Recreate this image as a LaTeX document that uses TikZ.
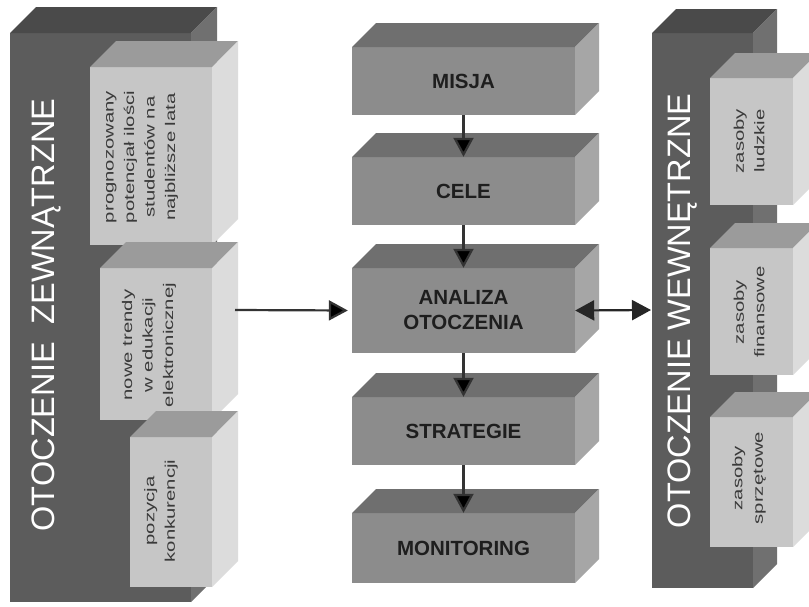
\documentclass[tikz,border=0pt]{standalone}
\usepackage{fontspec}
\setmainfont{Liberation Sans}
\newfontfamily\narrowish[FakeStretch=1.45]{Liberation Sans}
\usetikzlibrary{arrows.meta}
\definecolor{bigfront}{HTML}{5C5C5C}
\definecolor{bigtop}{HTML}{4A4A4A}
\definecolor{bigside}{HTML}{707070}
\definecolor{smfront}{HTML}{C6C6C6}
\definecolor{smtop}{HTML}{9B9B9B}
\definecolor{smside}{HTML}{DCDCDC}
\definecolor{midfront}{HTML}{8C8C8C}
\definecolor{midtop}{HTML}{6F6F6F}
\definecolor{midside}{HTML}{A6A6A6}
\definecolor{smtext}{HTML}{3A3A3A}
\definecolor{midtext}{HTML}{1E1E1E}
% #1 x1, #2 y1, #3 x2, #4 y2, #5 depth, #6 front, #7 top, #8 side
\newcommand\cuboidbox[8]{%
  \fill[#6] (#1,#2) rectangle (#3,#4);
  \fill[#7] (#1,#2) -- ({#1+#5},{#2-#5}) -- ({#3+#5},{#2-#5}) -- (#3,#2) -- cycle;
  \fill[#8] (#3,#2) -- ({#3+#5},{#2-#5}) -- ({#3+#5},{#4-#5}) -- (#3,#4) -- cycle;
}
\tikzset{
  bigtext/.style={rotate=90, text=white, font=\fontsize{32.5}{36}\selectfont, inner sep=0pt},
  smalltext/.style={rotate=90, text=smtext, align=center, inner sep=0pt,
    font=\narrowish\fontsize{14}{20.5}\selectfont},
  midlabel/.style={text=midtext, align=center, inner sep=0pt,
    font=\bfseries\fontsize{20.5}{25}\selectfont},
  flow/.style={draw=black!80, line width=2.2pt, -{Triangle[width=20pt,length=19pt,fill=black]}},
  bothflow/.style={draw=black!85, line width=2.2pt, {Triangle[width=20pt,length=19pt]}-{Triangle[width=20pt,length=19pt]}}
}
\begin{document}
\begin{tikzpicture}[x=1pt,y=-1pt]
\fill[white] (0,0) rectangle (809,606);
\useasboundingbox (0,0) rectangle (809,606);
\clip (0,0) rectangle (809,606);

% left big block
\cuboidbox{10}{33}{191}{602}{26}{bigfront}{bigtop}{bigside}
\cuboidbox{90}{67}{212}{245}{26}{smfront}{smtop}{smside}
\cuboidbox{100}{268}{212}{420}{26}{smfront}{smtop}{smside}
\cuboidbox{130}{437}{212}{587}{26}{smfront}{smtop}{smside}

\node[bigtext] (ext) at (46,315) {OTOCZENIE\hspace{0.55em}ZEWNĄTRZNE};
\node[smalltext] (e1) at (142,157) {prognozowany\\potencjał ilości\\studentów na\\najbliższe lata};
\node[smalltext] (e2) at (149,345) {nowe trendy\\w edukacji\\elektronicznej};
\node[smalltext] (e3) at (161,511) {pozycja\\konkurencji};
\coordinate (e2side) at (235,310);

% right big block
\cuboidbox{652}{33}{753}{588}{24}{bigfront}{bigtop}{bigside}
\cuboidbox{710}{78}{793}{205}{25}{smfront}{smtop}{smside}
\cuboidbox{710}{248}{793}{375}{25}{smfront}{smtop}{smside}
\cuboidbox{710}{417}{793}{547}{25}{smfront}{smtop}{smside}

\node[bigtext] (int) at (683,311) {OTOCZENIE WEWNĘTRZNE};
\node[smalltext] (i1) at (749,141) {zasoby\\ludzkie};
\node[smalltext] (i2) at (749,312) {zasoby\\finansowe};
\node[smalltext] (i3) at (749,478) {zasoby\\sprzętowe};
\coordinate (intfront) at (651,310);

% middle column
\cuboidbox{352}{47}{575}{115}{24}{midfront}{midtop}{midside}
\cuboidbox{352}{157}{575}{225}{24}{midfront}{midtop}{midside}
\cuboidbox{352}{268}{575}{353}{24}{midfront}{midtop}{midside}
\cuboidbox{352}{397}{575}{465}{24}{midfront}{midtop}{midside}
\cuboidbox{352}{513}{575}{583}{24}{midfront}{midtop}{midside}

\node[midlabel, minimum width=223pt, minimum height=68pt] (m1) at (463.5,81) {MISJA};
\node[midlabel, minimum width=223pt, minimum height=68pt] (m2) at (463.5,191) {CELE};
\node[midlabel, minimum width=223pt, minimum height=85pt] (m3) at (463.5,310.5) {ANALIZA\\OTOCZENIA};
\node[midlabel, minimum width=223pt, minimum height=68pt] (m4) at (463.5,431) {STRATEGIE};
\node[midlabel, minimum width=223pt, minimum height=70pt] (m5) at (463.5,548) {MONITORING};

\draw[flow] (m1.south) -- (m2.north);
\draw[flow] (m2.south) -- (m3.north);
\draw[flow] (m3.south) -- (m4.north);
\draw[flow] (m4.south) -- (m5.north);

\draw[flow, shorten >=4pt] (e2side) -- (m3.west);
\draw[bothflow] (m3.east) -- (intfront);
\end{tikzpicture}
\end{document}
